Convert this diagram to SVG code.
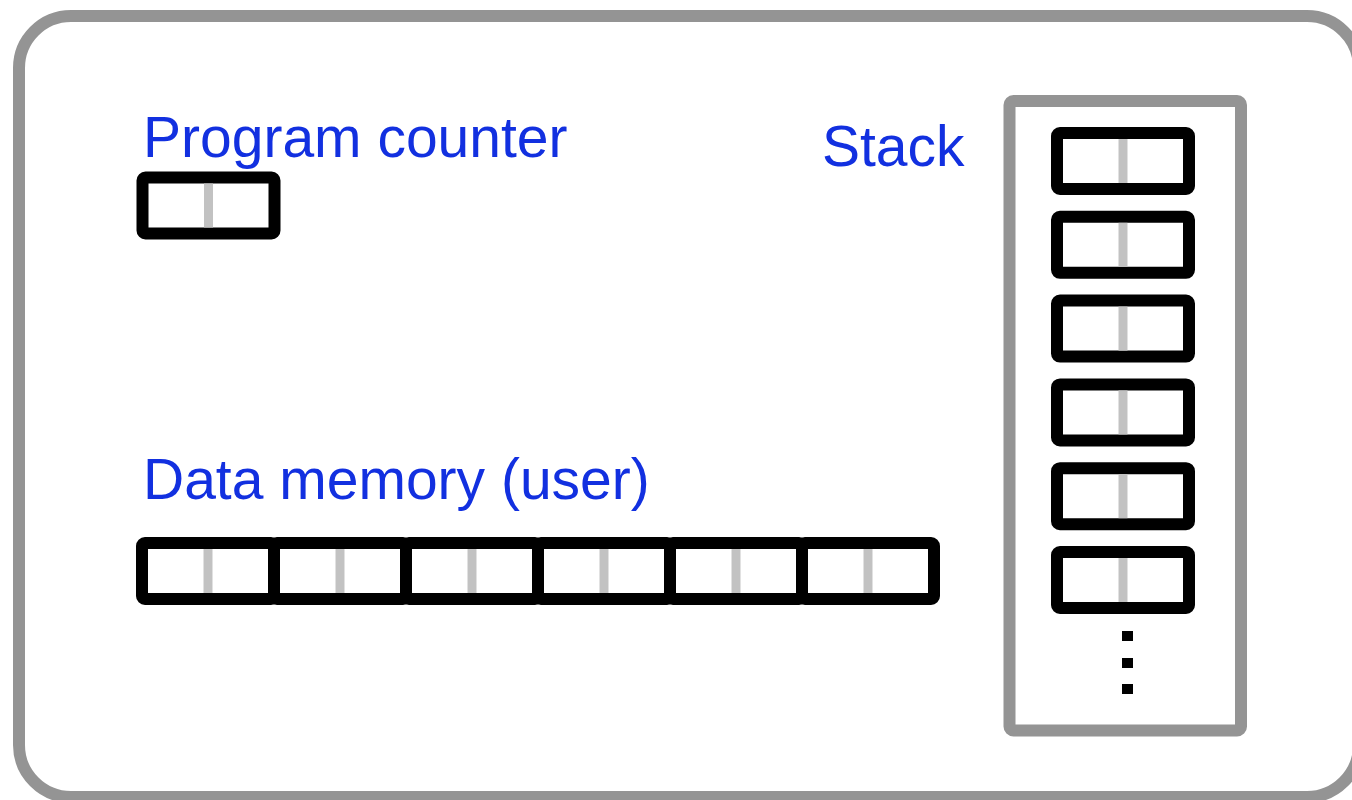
<svg xmlns="http://www.w3.org/2000/svg" width="1352" height="800" viewBox="0 0 1352 800">
<style>
.lbl{font-family:"Liberation Sans",Arial,sans-serif;font-size:57px;fill:#1230e0}
.cell{fill:#fff;stroke:#000;stroke-width:12}
.div{stroke:#c2c2c2;stroke-width:9}
.frame{fill:#fff;stroke:#949494;stroke-width:12}
</style>
<defs>
<g id="c"><rect class="cell" x="0" y="0" width="132" height="56" rx="3"/><line class="div" x1="66" y1="6" x2="66" y2="50"/></g>
</defs>
<rect width="1352" height="800" fill="#fff"/>
<g id="machine"><rect class="frame" x="19" y="16" width="1340" height="781" rx="52"/></g>
<g id="program-counter">
<text class="lbl" x="143" y="157">Program counter</text>
<use href="#c" x="142.5" y="177.5"/>
</g>
<g id="data-memory">
<text class="lbl" x="143" y="499">Data memory (user)</text>
<use href="#c" x="142" y="543"/>
<use href="#c" x="274" y="543"/>
<use href="#c" x="406" y="543"/>
<use href="#c" x="538" y="543"/>
<use href="#c" x="670" y="543"/>
<use href="#c" x="802" y="543"/>
</g>
<g id="stack">
<text class="lbl" x="822" y="166">Stack</text>
<rect class="frame" x="1009.5" y="101" width="231.5" height="629.5" rx="4"/>
<use href="#c" x="1057" y="133"/>
<use href="#c" x="1057" y="216.8"/>
<use href="#c" x="1057" y="300.6"/>
<use href="#c" x="1057" y="384.4"/>
<use href="#c" x="1057" y="468.2"/>
<use href="#c" x="1057" y="552"/>
<rect x="1122" y="631" width="11" height="10" fill="#000"/>
<rect x="1122" y="658" width="11" height="10" fill="#000"/>
<rect x="1122" y="684" width="11" height="10" fill="#000"/>
</g>
<g id="connectors"/>
</svg>
